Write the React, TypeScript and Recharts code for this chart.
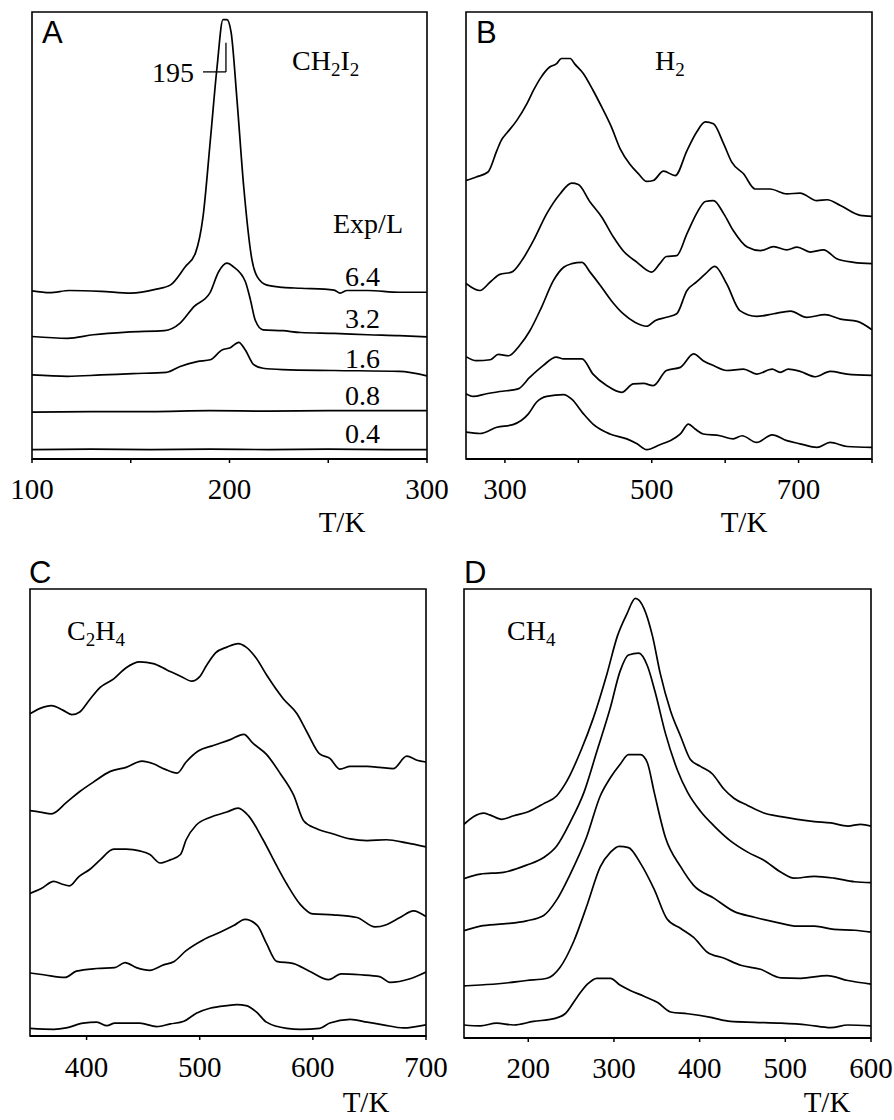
import { LineChart, Line, XAxis, YAxis, ReferenceArea, ReferenceLine } from 'recharts';

const serif = '"Liberation Serif", "Times New Roman", serif';
const sans = '"Liberation Sans", Arial, sans-serif';

// ---- panel A: CH2I2 (T/K, offset signal) ----
const aTicks = [100, 150, 200, 250, 300];
const aLabels = [100, 200, 300];
const aExp64 = [[100, 37.6], [109, 37.2], [119, 37.7], [135, 37.5], [150, 37.1], [163, 38.0], [170, 38.9], [177.6, 43.0], [182.7, 46.0], [186.6, 54.2], [190.3, 71.3], [193.7, 87.7], [196.7, 98.3], [198.7, 98.3], [200.8, 95.5], [203.8, 80.3], [207.2, 60.9], [211.4, 44.5], [214, 40.8], [219, 38.9], [227, 38.4], [236, 38.2], [253, 37.8], [256, 37.1], [259.5, 37.7], [270, 37.7], [286, 37.3], [300, 37.3]];
const aExp32 = [[100, 27.4], [118, 27.0], [131, 27.8], [148, 28.4], [167, 28.7], [175, 30.4], [182, 34.1], [190, 37.1], [194.5, 41.9], [198.7, 43.8], [202, 43.0], [208, 39.7], [210.6, 35.6], [213, 31.1], [217, 28.9], [227, 28.7], [236, 28.3], [253, 28.1], [270, 27.8], [286, 27.6], [300, 27.3]];
const aExp16 = [[100, 18.8], [118, 18.5], [135, 18.8], [151, 19.1], [168, 19.4], [175, 20.7], [183.6, 21.8], [190.3, 22.2], [196.2, 24.4], [200.4, 24.9], [204.7, 26.1], [208, 24.4], [212.3, 21.1], [217, 20.3], [227, 20.0], [253, 19.8], [286, 19.6], [300, 18.6]];
const aExp08 = [[100, 10.5], [130, 10.6], [160, 10.6], [190, 10.8], [220, 10.7], [250, 10.8], [280, 10.8], [300, 10.8]];
const aExp04 = [[100, 2.1], [130, 2.2], [160, 2.1], [190, 2.2], [220, 2.1], [250, 2.2], [280, 2.1], [300, 2.1]];
const aExposures = ['6.4', '3.2', '1.6', '0.8', '0.4'];

// ---- panel B: H2 ----
const bTicks = [300, 400, 500, 600, 700, 800];
const bLabels = [300, 500, 700];
const b1 = [[247, 62.3], [261, 63.1], [277, 64.2], [289, 69.0], [295, 71.3], [302, 72.8], [316, 75.7], [330, 79.5], [339, 82.5], [348, 85.1], [361, 87.7], [370, 88.4], [377, 89.6], [389, 89.6], [395, 88.4], [407, 86.2], [420, 82.5], [432, 78.7], [445, 74.3], [457, 69.4], [470, 66.0], [482, 63.8], [493, 62.1], [502, 62.3], [516, 64.4], [532, 63.4], [548, 69.0], [561, 73.1], [573, 75.4], [584, 75.0], [598, 70.5], [609, 66.4], [625, 63.8], [641, 60.4], [661, 60.4], [684, 59.3], [702, 59.5], [725, 57.8], [739, 58.0], [757, 56.7], [784, 54.5], [800, 54.3]];
const b2 = [[247, 39.3], [266, 37.7], [280, 39.6], [293, 41.3], [309, 41.8], [323, 44.4], [339, 48.9], [357, 54.9], [375, 59.3], [391, 61.7], [400, 61.4], [416, 57.5], [432, 54.1], [448, 49.6], [461, 46.6], [480, 44.0], [500, 41.8], [511, 43.7], [520, 45.3], [534, 45.5], [548, 50.4], [561, 54.9], [573, 57.6], [584, 57.8], [598, 54.9], [611, 51.1], [630, 47.4], [648, 46.6], [666, 47.5], [684, 46.8], [698, 47.4], [716, 46.3], [734, 46.8], [752, 44.8], [775, 44.0], [800, 43.7]];
const b3 = [[247, 22.9], [261, 22.0], [280, 22.2], [291, 23.4], [305, 23.1], [320, 25.4], [334, 28.7], [350, 34.0], [366, 39.9], [380, 42.9], [391, 43.7], [405, 44.0], [416, 41.8], [430, 38.8], [445, 35.4], [461, 32.5], [477, 30.6], [493, 29.7], [505, 31.0], [520, 31.7], [534, 32.5], [548, 37.7], [561, 39.6], [573, 41.4], [586, 43.1], [602, 39.2], [620, 33.2], [643, 31.9], [666, 32.5], [689, 33.1], [711, 31.7], [736, 32.3], [757, 31.3], [780, 30.8], [800, 28.9]];
const b4 = [[247, 14.6], [257, 14.0], [275, 14.6], [293, 15.1], [318, 15.7], [334, 18.3], [352, 20.9], [370, 22.8], [380, 22.4], [405, 22.4], [420, 19.0], [439, 16.4], [459, 14.9], [475, 16.8], [489, 16.9], [502, 16.4], [520, 19.8], [539, 20.5], [557, 23.5], [570, 22.0], [584, 20.9], [602, 19.8], [625, 20.1], [643, 19.0], [664, 20.1], [675, 19.4], [686, 20.1], [702, 19.6], [723, 18.4], [743, 19.6], [766, 19.0], [800, 18.7]];
const b5 = [[247, 6.0], [266, 5.7], [289, 7.1], [311, 7.7], [332, 10.1], [343, 12.7], [357, 14.0], [380, 14.4], [391, 13.4], [407, 10.1], [420, 7.8], [443, 5.6], [466, 4.5], [480, 3.4], [493, 2.1], [511, 3.2], [525, 4.1], [539, 5.6], [550, 7.8], [559, 6.7], [570, 5.6], [593, 5.2], [611, 4.5], [623, 5.2], [643, 3.7], [664, 5.4], [684, 4.1], [702, 3.4], [725, 2.6], [743, 3.7], [766, 2.8], [800, 2.6]];

// ---- panel C: C2H4 ----
const cTicks = [400, 500, 600, 700];
const c1 = [[350, 72.1], [359, 73.3], [369, 73.9], [379, 72.9], [387, 71.9], [394, 72.5], [402, 75.0], [412, 78.0], [424, 79.9], [435, 82.4], [447, 83.7], [459, 83.3], [471, 81.9], [483, 80.5], [493, 79.4], [500, 80.4], [506, 82.9], [514, 85.7], [524, 87.0], [534, 87.8], [541, 87.0], [550, 84.5], [559, 80.8], [574, 75.4], [586, 72.1], [595, 67.9], [606, 63.1], [615, 62.1], [624, 59.7], [633, 60.3], [648, 60.3], [659, 60.1], [671, 59.8], [683, 62.6], [692, 61.7], [700, 61.3]];
const c2 = [[350, 50.4], [359, 50.1], [369, 49.7], [382, 52.2], [394, 54.7], [406, 56.8], [421, 59.2], [435, 60.1], [449, 61.5], [459, 60.9], [469, 59.7], [480, 58.8], [488, 61.3], [499, 63.8], [512, 65.0], [527, 66.3], [539, 67.5], [547, 65.5], [559, 63.0], [571, 58.8], [583, 53.9], [592, 48.1], [603, 46.4], [618, 45.2], [633, 44.1], [648, 43.7], [665, 43.9], [683, 43.2], [700, 42.3]];
const c3 = [[350, 31.9], [360, 33.0], [371, 34.6], [378, 34.0], [385, 33.6], [393, 35.6], [403, 37.3], [412, 39.4], [424, 41.8], [435, 41.8], [447, 41.4], [456, 40.6], [465, 38.7], [474, 39.4], [483, 40.6], [488, 43.9], [497, 47.2], [509, 48.9], [524, 50.1], [534, 51.0], [543, 49.3], [556, 43.9], [568, 38.1], [577, 34.0], [589, 29.4], [600, 27.3], [618, 27.1], [639, 26.5], [655, 24.4], [665, 24.9], [677, 26.5], [689, 28.0], [700, 26.7]];
const c4 = [[350, 14.1], [362, 13.7], [381, 13.1], [391, 14.5], [409, 15.1], [425, 15.3], [434, 16.4], [444, 15.3], [456, 14.7], [468, 15.9], [477, 16.6], [488, 19.1], [503, 21.5], [518, 23.2], [530, 24.7], [540, 26.1], [551, 24.7], [559, 20.7], [568, 16.7], [583, 16.2], [597, 14.5], [614, 12.6], [625, 13.9], [642, 13.7], [659, 13.3], [668, 12.0], [686, 12.8], [700, 14.3]];
const c5 = [[350, 1.7], [371, 1.5], [382, 1.8], [397, 2.9], [409, 3.1], [418, 2.3], [425, 2.9], [447, 2.9], [462, 2.1], [474, 2.7], [486, 3.3], [497, 5.1], [509, 6.2], [524, 6.8], [533, 7.0], [541, 6.8], [550, 5.4], [559, 3.1], [577, 1.7], [589, 1.5], [606, 1.7], [615, 2.9], [633, 3.7], [648, 3.1], [662, 2.5], [680, 1.8], [700, 2.5]];

// ---- panel D: CH4 ----
const dTicks = [200, 300, 400, 500, 600];
const d1 = [[125, 47.6], [136, 49.3], [148, 50.1], [155, 49.7], [169, 48.7], [183, 49.5], [200, 50.4], [218, 52.2], [233, 53.9], [245, 57.2], [261, 63.8], [276, 71.3], [292, 81.2], [304, 89.5], [315, 94.4], [325, 97.9], [335, 95.7], [345, 89.5], [354, 81.2], [366, 72.9], [378, 67.1], [389, 62.1], [401, 60.5], [415, 58.8], [428, 55.5], [440, 53.4], [456, 51.8], [475, 50.1], [495, 49.3], [514, 48.7], [534, 48.2], [553, 47.9], [573, 47.2], [588, 47.6], [600, 47.2]];
const d2 = [[125, 35.5], [144, 36.5], [171, 36.9], [198, 38.5], [218, 40.2], [233, 42.7], [249, 48.1], [265, 54.7], [280, 63.8], [296, 73.7], [307, 81.6], [317, 85.3], [329, 85.7], [339, 82.9], [348, 77.1], [360, 67.9], [374, 59.7], [386, 54.7], [401, 50.5], [417, 47.2], [436, 43.9], [456, 41.4], [475, 39.6], [495, 36.9], [510, 35.6], [534, 36.0], [557, 35.6], [581, 34.8], [600, 34.6]];
const d3 = [[125, 23.9], [144, 24.9], [171, 25.4], [198, 26.1], [218, 27.3], [233, 30.7], [249, 36.5], [268, 44.7], [284, 53.9], [296, 58.0], [307, 60.9], [317, 63.1], [331, 63.1], [339, 61.3], [347, 54.7], [360, 44.7], [378, 38.1], [393, 34.0], [417, 31.1], [440, 28.2], [464, 26.9], [491, 25.7], [514, 24.9], [534, 24.9], [557, 24.2], [581, 24.0], [600, 23.6]];
const d4 = [[125, 11.6], [144, 11.8], [171, 12.2], [198, 12.8], [222, 13.3], [237, 15.7], [253, 21.5], [269, 29.8], [284, 38.1], [296, 41.4], [306, 42.7], [317, 42.4], [331, 38.9], [347, 33.1], [362, 26.5], [378, 24.4], [393, 22.4], [409, 19.1], [428, 17.8], [448, 16.2], [471, 15.3], [495, 13.4], [518, 13.3], [549, 13.9], [573, 12.8], [600, 12.0]];
const d5 = [[125, 2.9], [144, 2.7], [163, 3.3], [183, 2.9], [206, 3.7], [230, 4.3], [243, 5.4], [257, 9.1], [269, 12.0], [280, 13.3], [296, 13.3], [307, 11.8], [319, 10.6], [335, 9.3], [351, 7.9], [366, 5.8], [386, 5.4], [413, 4.6], [436, 3.7], [464, 3.5], [495, 3.3], [526, 2.9], [553, 2.3], [573, 2.9], [600, 2.7]];

const toRows = (pts: number[][]) => pts.map(([t, v]) => ({ t, v }));

// serif tick text, only for the labelled ticks
const makeTick = (labels: number[]) => (props: any) => {
  const { x, y, payload } = props;
  if (!labels.includes(payload.value)) return <g />;
  return (
    <text x={x} y={y} dy={20} textAnchor="middle" fontFamily={serif} fontSize={29} fill="#000">
      {payload.value}
    </text>
  );
};

type PanelProps = {
  x: number;
  y: number;
  w: number;
  h: number;
  margin: { top: number; left: number; right: number; bottom: number };
  domain: [number, number];
  ticks: number[];
  labels: number[];
  traces: number[][][];
  tickMargin: number;
  extra?: any;
};

const Panel = ({ x, y, w, h, margin, domain, ticks, labels, traces, tickMargin, extra }: PanelProps) => (
  <div style={{ position: 'absolute', left: x, top: y }}>
    <LineChart width={w} height={h} margin={margin}>
      <XAxis
        type="number"
        dataKey="t"
        domain={domain}
        allowDataOverflow
        ticks={ticks}
        interval={0}
        tickSize={4}
        tickMargin={tickMargin}
        height={40}
        axisLine={{ stroke: '#000', strokeWidth: 2 }}
        tickLine={{ stroke: '#000', strokeWidth: 1.5 }}
        tick={makeTick(labels)}
      />
      <YAxis hide type="number" domain={[0, 100]} allowDataOverflow />
      <ReferenceArea x1={domain[0]} x2={domain[1]} y1={0} y2={100} fill="none" stroke="#000" strokeWidth={1.6} ifOverflow="visible" />
      {traces.map((tr, i) => (
        <Line key={i} data={toRows(tr)} dataKey="v" type="monotone" stroke="#000" strokeWidth={1.7} dot={false} isAnimationActive={false} />
      ))}
      {extra}
    </LineChart>
  </div>
);

const sub = (s: string) => (
  <tspan fontSize={19} dy={6}>{s}</tspan>
);

export default function App() {
  const expBaselines = [286, 328, 368, 405, 443];
  return (
    <div style={{ position: 'absolute', left: 0, top: 0, width: 894, height: 1120, background: '#fff' }}>
      <Panel
        x={0} y={0} w={460} h={540}
        margin={{ top: 12, left: 32, right: 33, bottom: 41 }}
        domain={[100, 300]} ticks={aTicks} labels={aLabels} tickMargin={16}
        traces={[aExp64, aExp32, aExp16, aExp08, aExp04]}
        extra={[
          <ReferenceLine key="h" segment={[{ x: 186.6, y: 86.6 }, { x: 198.2, y: 86.6 }]} stroke="#000" strokeWidth={1.3} ifOverflow="visible" />,
          <ReferenceLine key="v" segment={[{ x: 198.2, y: 86.6 }, { x: 198.2, y: 93.1 }]} stroke="#000" strokeWidth={1.3} ifOverflow="visible" />,
        ]}
      />
      <Panel
        x={440} y={0} w={454} h={540}
        margin={{ top: 12, left: 26, right: 22, bottom: 41 }}
        domain={[247, 800]} ticks={bTicks} labels={bLabels} tickMargin={16}
        traces={[b1, b2, b3, b4, b5]}
      />
      <Panel
        x={0} y={540} w={460} h={580}
        margin={{ top: 49, left: 30, right: 34, bottom: 44 }}
        domain={[350, 700]} ticks={cTicks} labels={cTicks} tickMargin={17}
        traces={[c1, c2, c3, c4, c5]}
      />
      <Panel
        x={440} y={540} w={454} h={580}
        margin={{ top: 49, left: 24, right: 23, bottom: 42 }}
        domain={[125, 600]} ticks={dTicks} labels={dTicks} tickMargin={16}
        traces={[d1, d2, d3, d4, d5]}
      />
      <svg width={894} height={1120} style={{ position: 'absolute', left: 0, top: 0, pointerEvents: 'none' }}>
        <g fontFamily={sans} fontSize={31} fill="#000">
          <text x={42} y={43}>A</text>
          <text x={476} y={43}>B</text>
          <text x={29} y={583}>C</text>
          <text x={464} y={583}>D</text>
        </g>
        <g fontFamily={serif} fontSize={28} fill="#000">
          <text x={292} y={70}>CH{sub('2')}<tspan dy={-6}>I</tspan>{sub('2')}</text>
          <text x={152} y={82}>195</text>
          <text x={655} y={70}>H{sub('2')}</text>
          <text x={67} y={640}>C{sub('2')}<tspan dy={-6}>H</tspan>{sub('4')}</text>
          <text x={507} y={640}>CH{sub('4')}</text>
          <text x={333} y={233}>Exp/L</text>
          {aExposures.map((e, i) => (
            <text key={e} x={345} y={expBaselines[i]}>{e}</text>
          ))}
          <text x={342} y={532} textAnchor="middle" fontSize={29}>T/K</text>
          <text x={744} y={532} textAnchor="middle" fontSize={29}>T/K</text>
          <text x={366} y={1112} textAnchor="middle" fontSize={29}>T/K</text>
          <text x={827} y={1112} textAnchor="middle" fontSize={29}>T/K</text>
        </g>
      </svg>
    </div>
  );
}
